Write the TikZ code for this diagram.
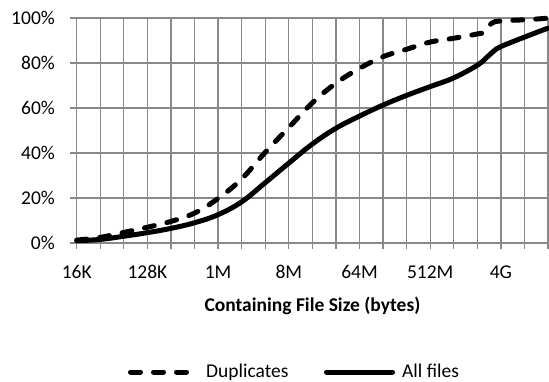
\documentclass[tikz,border=0pt]{standalone}
\usepackage{fontspec}
\setmainfont{Carlito}
\definecolor{gridgray}{RGB}{137,137,137}
\begin{document}
\begin{tikzpicture}[x=1pt,y=-1pt,
  gridline/.style={draw=gridgray,line width=1.3pt},
  lbl/.style={font=\fontsize{19.5}{23}\selectfont,inner sep=0pt},
  curve/.style={line width=5pt,line cap=round,line join=round},
  dupcurve/.style={curve,dash pattern=on 10pt off 13pt},
]
\useasboundingbox (0,0) rectangle (549,382);
\begin{scope}[shift={(76.7,243)},x=23.565pt,y=2.25pt]
  % grid
  \foreach \i in {0,...,20} \draw[gridline] (\i,100) -- (\i,-2.7);
  \foreach \p in {0,20,...,100} \draw[gridline] (-0.28,\p) -- (20,\p);
  % y labels
  \foreach \p in {0,20,...,100}
    \node[lbl,anchor=base east] (yl\p) at ([yshift=-6.5pt]-0.92,\p) {\p\%};
  % x labels
  \foreach \i/\t in {0/16K,3/128K,6/1M,9/8M,12/64M,15/512M,18/4G}
    \node[lbl,anchor=base] (xl\i) at ([yshift=-35pt]\i,0) {\t};
  % curves
  \draw[dupcurve] plot[smooth,tension=0.65] coordinates {
    (0,1.3) (1,2.5) (2,4.7) (3,7.0) (4,9.6) (5,13.3) (6,19.8) (7,28.5)
    (8,40.3) (9,51.3) (10,62.3) (11,71.0) (12,77.6) (13,82.8) (14,86.1)
    (15,89.3) (16,91) (17,92.9) (17.3,93.8) (17.6,97.6) (18,98.7) (19,99.2) (20,99.9)};
  \draw[curve] plot[smooth,tension=0.65] coordinates {
    (0,1.0) (1,1.6) (2,3.0) (3,4.6) (4,6.5) (5,9.0) (6,12.6) (7,18.3)
    (8,26.8) (9,35.5) (10,44.0) (11,51) (12,56.4) (13,61.3) (14,65.6)
    (15,69.5) (16,73.4) (17,79) (17.4,82.5) (17.7,85.3) (18,87.3) (19,91.5) (20,95.5)};
\end{scope}
% axis title
\node[lbl,font=\fontsize{19.5}{23}\selectfont\bfseries,anchor=base] (title) at (312.4,311) {Containing File Size (bytes)};
% legend
\coordinate (d1) at (130.5,372);
\coordinate (d2) at (187,372);
\draw[dupcurve] (d1) -- (d2);
\node[lbl,anchor=base west] (ldup) at (206,377.5) {Duplicates};
\coordinate (s1) at (326.5,372);
\coordinate (s2) at (392.5,372);
\draw[curve] (s1) -- (s2);
\node[lbl,anchor=base west] (lall) at (402,377.5) {All files};
\end{tikzpicture}
\end{document}
